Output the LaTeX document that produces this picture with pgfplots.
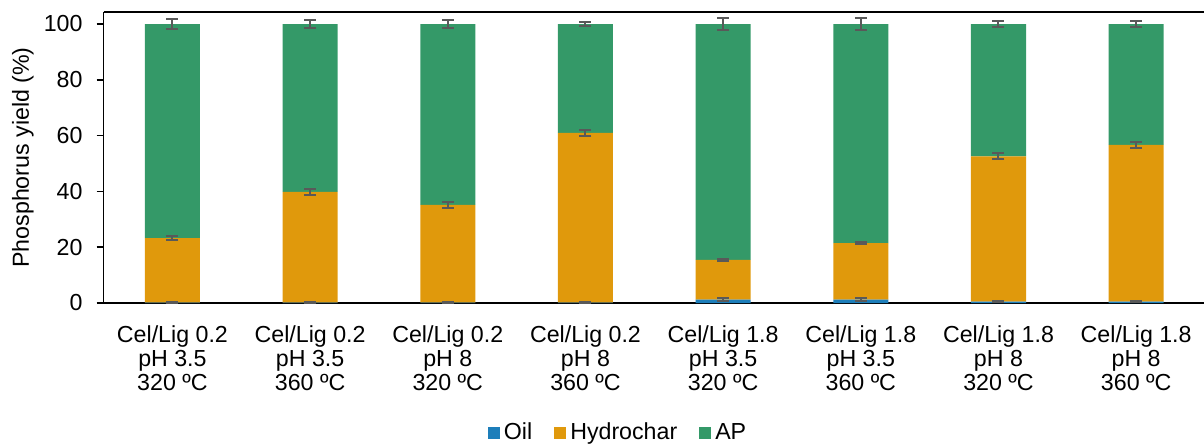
\documentclass[border=0pt]{standalone}
\usepackage{fontspec}
\setmainfont{Liberation Sans}
\usepackage{pgfplots}
\usepackage{pgfplotstable}
\pgfplotsset{compat=1.18}

\definecolor{oilblue}{RGB}{29,126,186}
\definecolor{charorange}{RGB}{224,153,12}
\definecolor{apgreen}{RGB}{52,153,104}
\definecolor{errgray}{RGB}{89,89,89}

\newcommand{\lbl}{\fontsize{11.6}{11.9}\selectfont}

% phosphorus distribution (%) in each product phase
\pgfplotstableread{
x oil char ap
0 0.1 23.2 76.7
1 0.1 39.7 60.2
2 0.1 35.1 64.8
3 0.1 60.9 39.0
4 1.2 14.3 84.5
5 1.2 20.3 78.5
6 0.5 52.1 47.4
7 0.5 56.2 43.3
}\phosphorus

% cumulative levels of each stacked segment and their standard deviations
\pgfplotstableread{
x oiltop oilerr chartop charerr aptop aperr
0 0.1 0.1 23.3 0.7 100 1.7
1 0.1 0.1 39.8 1.0 100 1.4
2 0.1 0.1 35.2 1.0 100 1.5
3 0.1 0.1 61.0 1.0 100 0.8
4 1.2 0.5 15.5 0.4 100 2.0
5 1.2 0.5 21.5 0.5 100 2.0
6 0.5 0.3 52.6 1.0 100 1.2
7 0.5 0.3 56.7 1.1 100 1.1
}\phosphoruserr

\pgfplotsset{
  phosaxis/.style={
    scale only axis,
    width=550.7pt, height=145.5pt,
    xmin=-0.5, xmax=7.5,
    ymin=0, ymax=104.3,
    at={(0,0)}, anchor=south west,
  },
  errbar/.style={
    draw=none, mark=none, forget plot,
    error bars/.cd,
      y dir=both, y explicit,
      error bar style={draw=errgray, line width=1pt},
      error mark options={draw=errgray, line width=1pt, mark size=3pt, rotate=90},
  },
}

\begin{document}
\begin{tikzpicture}
\begin{axis}[
  phosaxis,
  name=main,
  ybar stacked,
  bar width=0.4,
  axis lines*=left,
  axis line style={line width=0.9pt, -},
  tick align=outside,
  major tick length=3.5pt,
  ytick={0,20,...,100},
  ytick style={line width=0.75pt, black},
  xtick={0,...,7},
  xtick style={draw=none},
  xticklabels={
    {Cel/Lig 0.2\\pH 3.5\\320 ºC},
    {Cel/Lig 0.2\\pH 3.5\\360 ºC},
    {Cel/Lig 0.2\\pH 8\\320 ºC},
    {Cel/Lig 0.2\\pH 8\\360 ºC},
    {Cel/Lig 1.8\\pH 3.5\\320 ºC},
    {Cel/Lig 1.8\\pH 3.5\\360 ºC},
    {Cel/Lig 1.8\\pH 8\\320 ºC},
    {Cel/Lig 1.8\\pH 8\\360 ºC}},
  xticklabel style={align=center, font=\lbl, yshift=-4.5pt},
  yticklabel style={font=\lbl, xshift=-3.5pt},
  /pgf/number format/assume math mode=true,
  ylabel={Phosphorus yield (\%)},
  ylabel style={at={(axis description cs:-0.0732,0.5)}, anchor=center, font=\lbl},
  legend columns=3,
  legend style={draw=none, fill=none, at={(0.468,-0.447)}, anchor=center,
    font=\lbl, inner sep=0pt,
    /tikz/every even column/.append style={column sep=9pt}},
  legend image code/.code={\fill[#1] (0pt,-3pt) rectangle (6pt,3pt);},
]
\addplot[draw=none, fill=oilblue] table[x=x, y=oil] {\phosphorus};
\addplot[draw=none, fill=charorange] table[x=x, y=char] {\phosphorus};
\addplot[draw=none, fill=apgreen] table[x=x, y=ap] {\phosphorus};
\legend{Oil, Hydrochar, AP}
\end{axis}

\begin{axis}[phosaxis, hide axis]
\addplot[errbar] table[x=x, y=oiltop, y error=oilerr] {\phosphoruserr};
\addplot[errbar] table[x=x, y=chartop, y error=charerr] {\phosphoruserr};
\addplot[errbar] table[x=x, y=aptop, y error=aperr] {\phosphoruserr};
\end{axis}

\draw[line width=0.9pt] (main.north west) -- (main.north east);

\pgfresetboundingbox
\path[use as bounding box] (-51.8pt,-72pt) rectangle (550.2pt,151.5pt);
\end{tikzpicture}
\end{document}
